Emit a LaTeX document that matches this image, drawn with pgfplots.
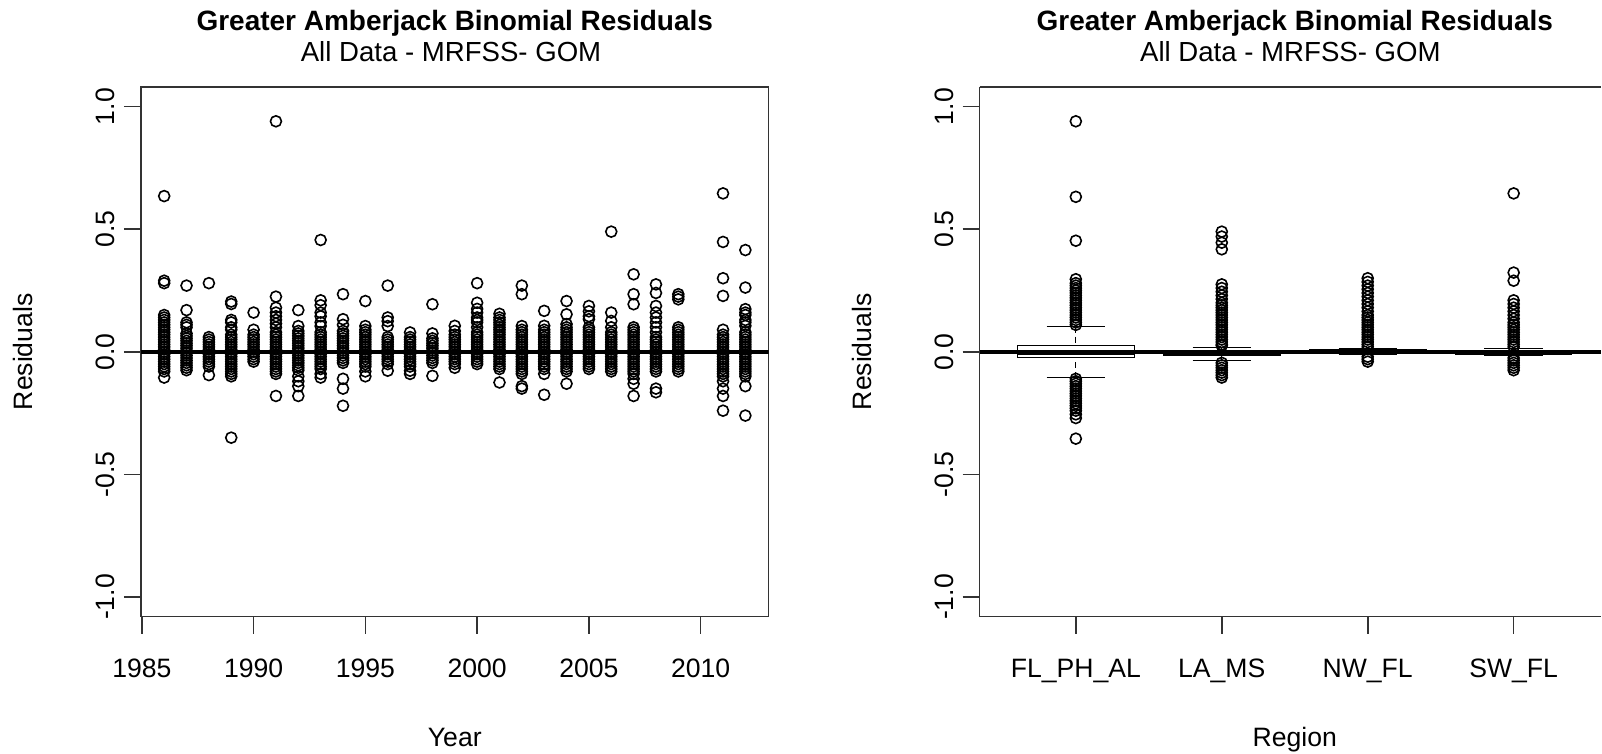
\documentclass[border=0pt]{standalone}
\usepackage{fontspec}
\setmainfont{Liberation Sans}
\usepackage{pgfplots}
\pgfplotsset{compat=1.18}
\usepgfplotslibrary{statistics}

\tikzset{
  titlefont/.style={font=\bfseries\fontsize{14}{16}\selectfont, anchor=base, inner sep=0pt},
  subfont/.style={font=\fontsize{13.8}{16}\selectfont, anchor=base, inner sep=0pt},
}
\pgfplotsset{
  rplot/.style={
    scale only axis, height=265pt,
    ymin=-1.08, ymax=1.08,
    ytick={-1,-0.5,0,0.5,1},
    tick align=outside, major tick length=8.5pt,
    tick pos=left,
    axis line style={black!80, line width=0.8pt},
    tick style={black!80, line width=0.8pt},
    /pgf/number format/assume math mode=true,
    /pgf/number format/1000 sep={},
    ticklabel style={font=\fontsize{13.3}{15}\selectfont, inner sep=0pt},
    xticklabel style={anchor=base},
    xticklabel shift=22.15pt,
    yticklabel style={rotate=90, anchor=base,
      /pgf/number format/fixed, /pgf/number format/fixed zerofill,
      /pgf/number format/precision=1},
    yticklabel shift=4.5pt,
    label style={font=\fontsize{13.3}{15}\selectfont, inner sep=0pt},
    clip mode=individual,
  },
  rmark/.style={only marks, mark=o, mark size=2.75pt, black,
    mark options={line width=0.8pt}},
}

\begin{document}
\begin{tikzpicture}
% page frame, 1 px of the reference = 0.5pt
\path (0,0) rectangle (801pt,377pt);

% ---- left: residuals by year
\begin{axis}[rplot, width=314pt, at={(70.5pt,68.5pt)}, anchor=south west,
  xmin=1984.96, xmax=2013.04,
  xtick={1985,1990,1995,2000,2005,2010},
  xlabel={Year}, ylabel={Residuals},
  xlabel style={at={(axis description cs:0.5,-0.2447)}, anchor=base},
  ylabel style={at={(axis description cs:-0.172,0.5)}, anchor=base}]
\addplot[rmark] coordinates {
(1986,-0.08) (1986,-0.07) (1986,-0.06) (1986,-0.05) (1986,-0.04) (1986,-0.03) (1986,-0.02) (1986,-0.01) (1986,0) (1986,0.01) (1986,0.02) (1986,0.03) (1986,0.04) (1986,0.05)
(1986,0.06) (1986,0.07) (1986,0.08) (1986,0.09) (1986,0.10) (1986,0.11) (1986,0.12) (1986,0.13) (1986,0.14) (1986,0.15) (1986,0.28) (1986,0.29) (1986,0.635) (1986,-0.105)
(1987,-0.075) (1987,-0.065) (1987,-0.055) (1987,-0.045) (1987,-0.035) (1987,-0.025) (1987,-0.015) (1987,-0.005) (1987,0.005) (1987,0.015) (1987,0.025) (1987,0.035) (1987,0.045) (1987,0.055) (1987,0.065) (1987,0.075)
(1987,0.10) (1987,0.11) (1987,0.12) (1987,0.17) (1987,0.27)
(1988,-0.06) (1988,-0.05) (1988,-0.04) (1988,-0.03) (1988,-0.02) (1988,-0.01) (1988,0) (1988,0.01) (1988,0.02) (1988,0.03) (1988,0.04) (1988,0.05) (1988,0.06)
(1988,0.28) (1988,-0.095)
(1989,-0.08) (1989,-0.07) (1989,-0.06) (1989,-0.05) (1989,-0.04) (1989,-0.03) (1989,-0.02) (1989,-0.01) (1989,0) (1989,0.01) (1989,0.02) (1989,0.03) (1989,0.04) (1989,0.05) (1989,0.06) (1989,0.07)
(1989,0.09) (1989,0.10) (1989,0.12) (1989,0.13) (1989,0.195) (1989,0.205) (1989,-0.09) (1989,-0.10) (1989,-0.35)
(1990,-0.04) (1990,-0.03) (1990,-0.02) (1990,-0.01) (1990,0) (1990,0.01) (1990,0.02) (1990,0.03) (1990,0.04) (1990,0.05) (1990,0.06) (1990,0.07)
(1990,0.09) (1990,0.16)
(1991,-0.08) (1991,-0.07) (1991,-0.06) (1991,-0.05) (1991,-0.04) (1991,-0.03) (1991,-0.02) (1991,-0.01) (1991,0) (1991,0.01) (1991,0.02) (1991,0.03) (1991,0.04) (1991,0.05) (1991,0.06) (1991,0.07) (1991,0.08)
(1991,0.10) (1991,0.115) (1991,0.13) (1991,0.145) (1991,0.16) (1991,0.18) (1991,0.225) (1991,0.94) (1991,-0.09) (1991,-0.18)
(1992,-0.075) (1992,-0.065) (1992,-0.055) (1992,-0.045) (1992,-0.035) (1992,-0.025) (1992,-0.015) (1992,-0.005) (1992,0.005) (1992,0.015) (1992,0.025) (1992,0.035) (1992,0.045) (1992,0.055) (1992,0.065) (1992,0.075) (1992,0.085)
(1992,0.105) (1992,0.17) (1992,-0.10) (1992,-0.12) (1992,-0.14) (1992,-0.18)
(1993,-0.07) (1993,-0.06) (1993,-0.05) (1993,-0.04) (1993,-0.03) (1993,-0.02) (1993,-0.01) (1993,0) (1993,0.01) (1993,0.02) (1993,0.03) (1993,0.04) (1993,0.05) (1993,0.06) (1993,0.07) (1993,0.08)
(1993,0.105) (1993,0.12) (1993,0.145) (1993,0.16) (1993,0.19) (1993,0.21) (1993,0.456) (1993,-0.09) (1993,-0.105)
(1994,-0.045) (1994,-0.035) (1994,-0.025) (1994,-0.015) (1994,-0.005) (1994,0.005) (1994,0.015) (1994,0.025) (1994,0.035) (1994,0.045) (1994,0.055) (1994,0.065) (1994,0.075) (1994,0.085)
(1994,0.11) (1994,0.133) (1994,0.235) (1994,-0.11) (1994,-0.15) (1994,-0.22)
(1995,-0.06) (1995,-0.05) (1995,-0.04) (1995,-0.03) (1995,-0.02) (1995,-0.01) (1995,0) (1995,0.01) (1995,0.02) (1995,0.03) (1995,0.04) (1995,0.05) (1995,0.06) (1995,0.07) (1995,0.08) (1995,0.09)
(1995,0.105) (1995,0.207) (1995,-0.08) (1995,-0.10)
(1996,-0.05) (1996,-0.04) (1996,-0.03) (1996,-0.02) (1996,-0.01) (1996,0) (1996,0.01) (1996,0.02) (1996,0.03) (1996,0.04) (1996,0.05) (1996,0.06)
(1996,0.105) (1996,0.125) (1996,0.14) (1996,0.27) (1996,-0.077)
(1997,-0.06) (1997,-0.05) (1997,-0.04) (1997,-0.03) (1997,-0.02) (1997,-0.01) (1997,0) (1997,0.01) (1997,0.02) (1997,0.03) (1997,0.04) (1997,0.05) (1997,0.06)
(1997,0.079) (1997,-0.077) (1997,-0.09)
(1998,-0.045) (1998,-0.035) (1998,-0.025) (1998,-0.015) (1998,-0.005) (1998,0.005) (1998,0.015) (1998,0.025) (1998,0.035) (1998,0.045) (1998,0.055)
(1998,0.075) (1998,0.194) (1998,-0.098)
(1999,-0.05) (1999,-0.04) (1999,-0.03) (1999,-0.02) (1999,-0.01) (1999,0) (1999,0.01) (1999,0.02) (1999,0.03) (1999,0.04) (1999,0.05) (1999,0.06) (1999,0.07)
(1999,0.085) (1999,0.106) (1999,-0.065)
(2000,-0.05) (2000,-0.04) (2000,-0.03) (2000,-0.02) (2000,-0.01) (2000,0) (2000,0.01) (2000,0.02) (2000,0.03) (2000,0.04) (2000,0.05) (2000,0.06) (2000,0.07) (2000,0.08)
(2000,0.10) (2000,0.12) (2000,0.13) (2000,0.14) (2000,0.16) (2000,0.175) (2000,0.20) (2000,0.28)
(2001,-0.07) (2001,-0.06) (2001,-0.05) (2001,-0.04) (2001,-0.03) (2001,-0.02) (2001,-0.01) (2001,0) (2001,0.01) (2001,0.02) (2001,0.03) (2001,0.04) (2001,0.05) (2001,0.06) (2001,0.07) (2001,0.08)
(2001,0.09) (2001,0.10) (2001,0.11) (2001,0.12) (2001,0.13) (2001,0.14) (2001,0.155) (2001,-0.125)
(2002,-0.09) (2002,-0.08) (2002,-0.07) (2002,-0.06) (2002,-0.05) (2002,-0.04) (2002,-0.03) (2002,-0.02) (2002,-0.01) (2002,0) (2002,0.01) (2002,0.02) (2002,0.03) (2002,0.04) (2002,0.05) (2002,0.06) (2002,0.07) (2002,0.08) (2002,0.09)
(2002,0.105) (2002,0.235) (2002,0.27) (2002,-0.14) (2002,-0.15)
(2003,-0.07) (2003,-0.06) (2003,-0.05) (2003,-0.04) (2003,-0.03) (2003,-0.02) (2003,-0.01) (2003,0) (2003,0.01) (2003,0.02) (2003,0.03) (2003,0.04) (2003,0.05) (2003,0.06) (2003,0.07) (2003,0.08)
(2003,0.09) (2003,0.106) (2003,0.167) (2003,-0.09) (2003,-0.175)
(2004,-0.08) (2004,-0.07) (2004,-0.06) (2004,-0.05) (2004,-0.04) (2004,-0.03) (2004,-0.02) (2004,-0.01) (2004,0) (2004,0.01) (2004,0.02) (2004,0.03) (2004,0.04) (2004,0.05) (2004,0.06) (2004,0.07) (2004,0.08) (2004,0.09) (2004,0.10)
(2004,0.113) (2004,0.153) (2004,0.207) (2004,-0.13)
(2005,-0.07) (2005,-0.06) (2005,-0.05) (2005,-0.04) (2005,-0.03) (2005,-0.02) (2005,-0.01) (2005,0) (2005,0.01) (2005,0.02) (2005,0.03) (2005,0.04) (2005,0.05) (2005,0.06) (2005,0.07) (2005,0.08) (2005,0.09) (2005,0.10)
(2005,0.133) (2005,0.145) (2005,0.165) (2005,0.187)
(2006,-0.08) (2006,-0.07) (2006,-0.06) (2006,-0.05) (2006,-0.04) (2006,-0.03) (2006,-0.02) (2006,-0.01) (2006,0) (2006,0.01) (2006,0.02) (2006,0.03) (2006,0.04) (2006,0.05) (2006,0.06) (2006,0.07) (2006,0.08)
(2006,0.10) (2006,0.126) (2006,0.16) (2006,0.49)
(2007,-0.09) (2007,-0.08) (2007,-0.07) (2007,-0.06) (2007,-0.05) (2007,-0.04) (2007,-0.03) (2007,-0.02) (2007,-0.01) (2007,0) (2007,0.01) (2007,0.02) (2007,0.03) (2007,0.04) (2007,0.05) (2007,0.06) (2007,0.07) (2007,0.08) (2007,0.09)
(2007,0.10) (2007,0.194) (2007,0.235) (2007,0.316) (2007,-0.11) (2007,-0.13) (2007,-0.18)
(2008,-0.08) (2008,-0.07) (2008,-0.06) (2008,-0.05) (2008,-0.04) (2008,-0.03) (2008,-0.02) (2008,-0.01) (2008,0) (2008,0.01) (2008,0.02) (2008,0.03) (2008,0.04) (2008,0.05) (2008,0.06)
(2008,0.08) (2008,0.10) (2008,0.12) (2008,0.14) (2008,0.16) (2008,0.187) (2008,0.24) (2008,0.275) (2008,-0.15) (2008,-0.165)
(2009,-0.08) (2009,-0.07) (2009,-0.06) (2009,-0.05) (2009,-0.04) (2009,-0.03) (2009,-0.02) (2009,-0.01) (2009,0) (2009,0.01) (2009,0.02) (2009,0.03) (2009,0.04) (2009,0.05) (2009,0.06) (2009,0.07) (2009,0.08) (2009,0.09)
(2009,0.10) (2009,0.214) (2009,0.225) (2009,0.235)
(2011,-0.10) (2011,-0.09) (2011,-0.08) (2011,-0.07) (2011,-0.06) (2011,-0.05) (2011,-0.04) (2011,-0.03) (2011,-0.02) (2011,-0.01) (2011,0) (2011,0.01) (2011,0.02) (2011,0.03) (2011,0.04) (2011,0.05) (2011,0.06) (2011,0.07)
(2011,0.09) (2011,0.228) (2011,0.30) (2011,0.448) (2011,0.646) (2011,-0.12) (2011,-0.15) (2011,-0.18) (2011,-0.24)
(2012,-0.10) (2012,-0.09) (2012,-0.08) (2012,-0.07) (2012,-0.06) (2012,-0.05) (2012,-0.04) (2012,-0.03) (2012,-0.02) (2012,-0.01) (2012,0) (2012,0.01) (2012,0.02) (2012,0.03) (2012,0.04) (2012,0.05) (2012,0.06) (2012,0.07) (2012,0.08)
(2012,0.106) (2012,0.12) (2012,0.13) (2012,0.15) (2012,0.16) (2012,0.174) (2012,0.262) (2012,0.415) (2012,-0.14) (2012,-0.26)
};
\addplot[black, line width=2pt] coordinates {(1984.96,0) (2013.04,0)};
\node[titlefont] at (rel axis cs:0.5,1.1075) {Greater Amberjack Binomial Residuals};
\node[subfont] at (rel axis cs:0.494,1.0479) {All Data - MRFSS- GOM};
\end{axis}

% ---- right: residuals by region (cut off at the right edge)
\begin{axis}[rplot, width=311pt, at={(490pt,68.5pt)}, anchor=south west,
  xmin=0.34, xmax=4.60,
  axis x line*=box, axis y line*=left,
  xtick={1,2,3,4},
  xticklabels={FL\_PH\_AL, LA\_MS, NW\_FL, SW\_FL},
  xlabel={Region}, ylabel={Residuals},
  xlabel style={at={(axis description cs:0.5071,-0.2447)}, anchor=base},
  ylabel style={at={(axis description cs:-0.1736,0.5)}, anchor=base},
  boxplot/draw direction=y,
  boxplot/box extend=0.8,
  boxplot/every box/.style={fill=white, draw=black, line width=0.6pt},
  boxplot/every median/.style={line width=2pt},
  boxplot/draw/lower whisker/.code={%
    \draw[dash pattern=on 3pt off 2pt, line width=0.6pt]
      (boxplot box cs:\pgfplotsboxplotvalue{lower whisker},0.5) --
      (boxplot box cs:\pgfplotsboxplotvalue{lower quartile},0.5);
    \draw[line width=0.6pt]
      (boxplot box cs:\pgfplotsboxplotvalue{lower whisker},0.25) --
      (boxplot box cs:\pgfplotsboxplotvalue{lower whisker},0.75);
  },
  boxplot/draw/upper whisker/.code={%
    \draw[dash pattern=on 3pt off 2pt, line width=0.6pt]
      (boxplot box cs:\pgfplotsboxplotvalue{upper whisker},0.5) --
      (boxplot box cs:\pgfplotsboxplotvalue{upper quartile},0.5);
    \draw[line width=0.6pt]
      (boxplot box cs:\pgfplotsboxplotvalue{upper whisker},0.25) --
      (boxplot box cs:\pgfplotsboxplotvalue{upper whisker},0.75);
  },
]
\addplot[black, mark=o, mark size=2.75pt, mark options={line width=0.8pt},
  boxplot prepared={draw position=1, lower whisker=-0.105, lower quartile=-0.023,
    median=-0.003, upper quartile=0.026, upper whisker=0.103}]
  table[row sep=\\, y index=0] {data\\ 0.94\\ 0.632\\ 0.453\\ 0.296\\ 0.28\\ 0.27\\ 0.26\\ 0.25\\ 0.24\\
    0.23\\ 0.22\\ 0.21\\ 0.20\\ 0.19\\ 0.18\\ 0.17\\ 0.16\\ 0.15\\ 0.14\\ 0.13\\ 0.12\\ 0.11\\
    -0.11\\ -0.12\\ -0.13\\ -0.14\\ -0.15\\ -0.16\\ -0.17\\ -0.18\\ -0.19\\ -0.20\\ -0.21\\
    -0.22\\ -0.23\\ -0.24\\ -0.255\\ -0.27\\ -0.354\\};
\addplot[black, mark=o, mark size=2.75pt, mark options={line width=0.8pt},
  boxplot prepared={draw position=2, lower whisker=-0.037, lower quartile=-0.015,
    median=-0.006, upper quartile=0.002, upper whisker=0.018}]
  table[row sep=\\, y index=0] {data\\ 0.49\\ 0.47\\ 0.445\\ 0.418\\ 0.275\\ 0.26\\ 0.245\\ 0.23\\
    0.215\\ 0.20\\ 0.19\\ 0.18\\ 0.17\\ 0.16\\ 0.15\\ 0.14\\ 0.13\\ 0.12\\ 0.11\\ 0.10\\ 0.09\\
    0.08\\ 0.07\\ 0.06\\ 0.05\\ 0.04\\ 0.03\\ 0.025\\ -0.045\\ -0.055\\ -0.065\\ -0.075\\
    -0.085\\ -0.095\\ -0.105\\};
\addplot[black, mark=o, mark size=2.75pt, mark options={line width=0.8pt},
  boxplot prepared={draw position=3, lower whisker=-0.011, lower quartile=-0.002,
    median=0.004, upper quartile=0.010, upper whisker=0.014}]
  table[row sep=\\, y index=0] {data\\ 0.30\\ 0.285\\ 0.27\\ 0.255\\ 0.24\\ 0.225\\ 0.21\\ 0.195\\
    0.18\\ 0.165\\ 0.15\\ 0.14\\ 0.13\\ 0.12\\ 0.11\\ 0.10\\ 0.09\\ 0.08\\ 0.07\\ 0.06\\ 0.05\\
    0.04\\ 0.03\\ 0.02\\ -0.02\\ -0.03\\ -0.04\\};
\addplot[black, mark=o, mark size=2.75pt, mark options={line width=0.8pt},
  boxplot prepared={draw position=4, lower whisker=-0.015, lower quartile=-0.008,
    median=-0.003, upper quartile=0.004, upper whisker=0.015}]
  table[row sep=\\, y index=0] {data\\ 0.646\\ 0.323\\ 0.29\\ 0.21\\ 0.195\\ 0.18\\ 0.165\\ 0.15\\
    0.135\\ 0.12\\ 0.11\\ 0.10\\ 0.09\\ 0.08\\ 0.07\\ 0.06\\ 0.05\\ 0.04\\ 0.03\\ 0.02\\
    -0.025\\ -0.035\\ -0.045\\ -0.055\\ -0.065\\ -0.075\\};
\addplot[black, line width=2pt] coordinates {(0.34,0) (4.60,0)};
\node[titlefont] at (rel axis cs:0.5071,1.1075) {Greater Amberjack Binomial Residuals};
\node[subfont] at (rel axis cs:0.5,1.0479) {All Data - MRFSS- GOM};
\end{axis}
\end{tikzpicture}
\end{document}
